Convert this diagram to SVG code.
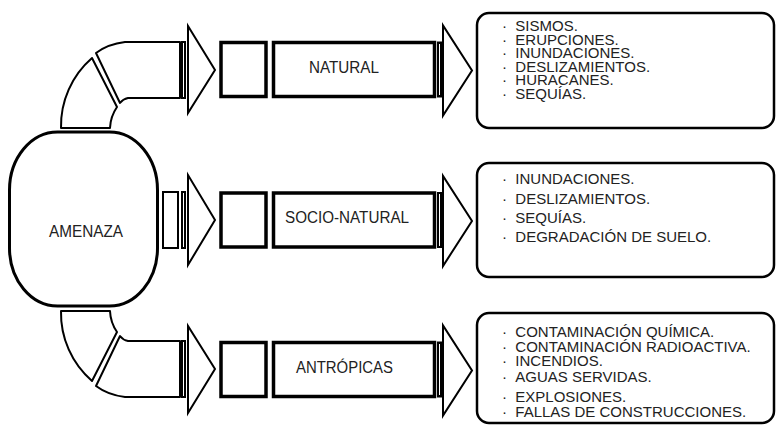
<svg xmlns="http://www.w3.org/2000/svg" width="777" height="425" viewBox="0 0 777 425">
  <style>
    .pipe { fill: #fff; stroke: #000; stroke-width: 2; stroke-linejoin: round; }
    .box { fill: #fff; stroke: #000; stroke-width: 3.5; }
    .bar { fill: #fff; stroke: #000; stroke-width: 2; }
    .head { fill: #fff; stroke: #000; stroke-width: 2; stroke-linejoin: miter; }
    .panel { fill: #fff; stroke: #000; stroke-width: 2.5; }
    .lbl { font-family: "Liberation Sans", Arial, sans-serif; font-size: 16px; fill: #222; }
    .item { font-family: "Liberation Sans", Arial, sans-serif; font-size: 15px; fill: #222; }
  </style>
  <defs>
    <!-- curved pipe leaving the top of the central shape -->
    <g id="elbow">
      <path class="pipe" d="M61,128 A90,90 0 0,1 92,58 L117,107 A40,40 0 0,0 110,128 Z"/>
      <path class="pipe" d="M96,53 Q108,44 125,42 L180,42 L180,98 L128,98 Q123,99 120,103 Z"/>
      <rect class="bar" x="182" y="42" width="3" height="56"/>
      <polygon class="head" points="188,26 188,113 215,70"/>
    </g>
    <!-- small square, label box, double bar and arrow head -->
    <g id="chain">
      <rect class="box" x="221" y="0" width="45" height="54"/>
      <rect class="box" x="273.5" y="0" width="161" height="54"/>
      <rect class="bar" x="438" y="0" width="3" height="54"/>
      <polygon class="head" points="443,-17 443,73 472,28"/>
    </g>
  </defs>

  <g id="connectors">
    <use href="#elbow"/>
    <use href="#elbow" transform="translate(0,439) scale(1,-1)"/>
    <rect class="bar" x="163" y="192" width="15" height="56" stroke-width="2.5"/>
    <rect class="bar" x="182" y="192" width="3" height="56"/>
    <polygon class="head" points="188,175 188,265 215,220"/>
  </g>

  <g id="amenaza">
    <rect x="9.5" y="132" width="148" height="174" rx="48" ry="58" fill="#fff" stroke="#000" stroke-width="3"/>
    <text class="lbl" x="49" y="237" textLength="74" lengthAdjust="spacingAndGlyphs">AMENAZA</text>
  </g>

  <g id="natural">
    <use href="#chain" transform="translate(0,42.5)"/>
    <text class="lbl" x="309" y="73" textLength="70" lengthAdjust="spacingAndGlyphs">NATURAL</text>
  </g>

  <g id="socio-natural">
    <use href="#chain" transform="translate(0,193)"/>
    <text class="lbl" x="285" y="223" textLength="124" lengthAdjust="spacingAndGlyphs">SOCIO-NATURAL</text>
  </g>

  <g id="antropicas">
    <use href="#chain" transform="translate(0,342.5)"/>
    <text class="lbl" x="296" y="373" textLength="97" lengthAdjust="spacingAndGlyphs">ANTRÓPICAS</text>
  </g>

  <!-- bulleted lists: bullet and two no-break spaces lead each line -->
  <g id="lista-natural">
    <rect class="panel" x="477" y="13" width="297" height="115" rx="12" ry="12"/>
    <text class="item">
      <tspan x="502" y="31">·&#160;&#160;SISMOS.</tspan>
      <tspan x="502" y="44.5">·&#160;&#160;ERUPCIONES.</tspan>
      <tspan x="502" y="58">·&#160;&#160;INUNDACIONES.</tspan>
      <tspan x="502" y="71.5">·&#160;&#160;DESLIZAMIENTOS.</tspan>
      <tspan x="502" y="85">·&#160;&#160;HURACANES.</tspan>
      <tspan x="502" y="98.5">·&#160;&#160;SEQUÍAS.</tspan>
    </text>
  </g>

  <g id="lista-socio-natural">
    <rect class="panel" x="477" y="163" width="297" height="114" rx="12" ry="12"/>
    <text class="item">
      <tspan x="502" y="184">·&#160;&#160;INUNDACIONES.</tspan>
      <tspan x="502" y="203.5">·&#160;&#160;DESLIZAMIENTOS.</tspan>
      <tspan x="502" y="222.5">·&#160;&#160;SEQUÍAS.</tspan>
      <tspan x="502" y="241.5">·&#160;&#160;DEGRADACIÓN DE SUELO.</tspan>
    </text>
  </g>

  <g id="lista-antropicas">
    <rect class="panel" x="477" y="313" width="297" height="110" rx="12" ry="12"/>
    <text class="item">
      <tspan x="502" y="336.5">·&#160;&#160;CONTAMINACIÓN QUÍMICA.</tspan>
      <tspan x="502" y="351.5">·&#160;&#160;CONTAMINACIÓN RADIOACTIVA.</tspan>
      <tspan x="502" y="366">·&#160;&#160;INCENDIOS.</tspan>
      <tspan x="502" y="381.5">·&#160;&#160;AGUAS SERVIDAS.</tspan>
      <tspan x="502" y="401.5">·&#160;&#160;EXPLOSIONES.</tspan>
      <tspan x="502" y="417">·&#160;&#160;FALLAS DE CONSTRUCCIONES.</tspan>
    </text>
  </g>
</svg>
